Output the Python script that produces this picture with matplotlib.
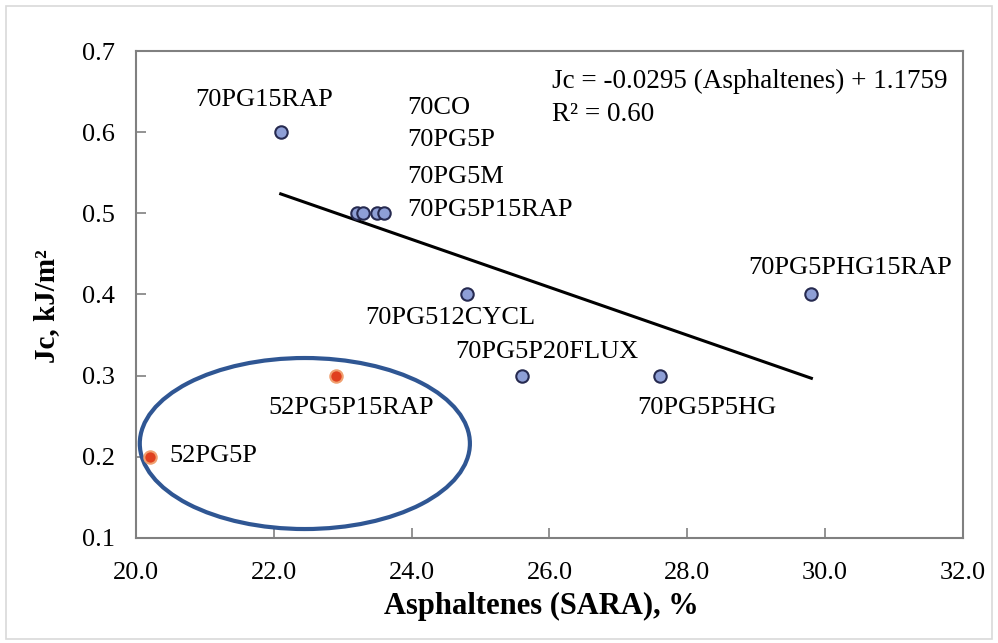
import matplotlib
matplotlib.use('Agg')
import matplotlib.pyplot as plt
from matplotlib.patches import Ellipse, Rectangle

plt.rcParams['font.family'] = ['Liberation Serif', 'DejaVu Serif']

# 70 PG binders
x70 = [22.1, 23.2, 23.3, 23.5, 23.6, 24.8, 25.6, 27.6, 29.8]
y70 = [0.6, 0.5, 0.5, 0.5, 0.5, 0.4, 0.3, 0.3, 0.4]
# 52 PG binders
x52 = [22.9, 20.2]
y52 = [0.3, 0.2]

labels = ['70PG15RAP', '70CO', '70PG5P', '70PG5M', '70PG5P15RAP', '70PG512CYCL',
          '70PG5P20FLUX', '70PG5P5HG', '70PG5PHG15RAP', '52PG5P15RAP', '52PG5P']
label_x = [20.86, 23.93, 23.93, 23.93, 23.93, 23.32, 24.63, 27.28, 28.88, 21.92, 20.49]
label_y = [0.640, 0.630, 0.590, 0.545, 0.504, 0.371, 0.329, 0.260, 0.433, 0.260, 0.201]

slope, intercept = -0.0295, 1.1759
fit_x = [22.1, 29.8]

xticks = [20, 22, 24, 26, 28, 30, 32]
yticks = [0.1, 0.2, 0.3, 0.4, 0.5, 0.6, 0.7]

fig = plt.figure(figsize=(9.98, 6.43), dpi=100)
fig.patches.append(Rectangle((0.006, 0.006), 0.988, 0.985, transform=fig.transFigure,
                             fill=False, edgecolor='#d9d9d9', lw=1.2))
ax = fig.add_axes([136 / 998, 1 - 538 / 643, 827 / 998, 487 / 643])

ax.plot(fit_x, [slope * v + intercept for v in fit_x], color='black', lw=2.2, zorder=2)
ax.scatter(x70, y70, s=80, color='#8e9fd6', edgecolor='#262a50', lw=1.5, zorder=3)
ax.scatter(x52, y52, s=80, color='#e0401f', edgecolor='#f0a070', lw=1.5, zorder=3)

ax.add_patch(Ellipse((22.45, 0.2164), 4.79, 0.2107, fill=False, edgecolor='#2f5693', lw=3, zorder=2))

for t, lx, ly in zip(labels, label_x, label_y):
    ax.text(lx, ly, t, fontsize=19, va='center', ha='left')

ax.text(26.04, 0.662, 'Jc = -0.0295 (Asphaltenes) + 1.1759', fontsize=19.5, va='center')
ax.text(26.04, 0.622, 'R² = 0.60', fontsize=19.5, va='center')

ax.set_xlim(20, 32)
ax.set_ylim(0.1, 0.7)
ax.set_xticks(xticks)
ax.set_xticklabels(['%.1f' % v for v in xticks])
ax.set_yticks(yticks)
ax.set_yticklabels(['%.1f' % v for v in yticks])
ax.tick_params(labelsize=19, direction='in', length=7, width=1.2, color='#808080')
ax.tick_params(axis='x', pad=17)
ax.tick_params(axis='y', pad=15)
for s in ax.spines.values():
    s.set_color('#808080')
    s.set_linewidth(1.5)

ax.set_xlabel('Asphaltenes (SARA), %', fontsize=22, fontweight='bold', va='center')
ax.xaxis.set_label_coords(0.49, -0.141)
ax.set_ylabel('Jc, kJ/m²', fontsize=21, fontweight='bold', va='center')
ax.yaxis.set_label_coords(-0.108, 0.476)

fig.savefig('out.png', dpi=100)
